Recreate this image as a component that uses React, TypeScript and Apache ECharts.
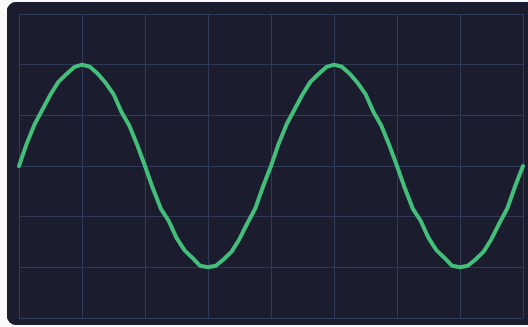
import React, { useEffect, useRef } from "react";
import * as echarts from "echarts";

// x positions in grid-cell units (8 cells across)
const xValues = [
  0, 0.125, 0.25, 0.375, 0.5, 0.625, 0.75, 0.875, 1.0, 1.125, 1.25, 1.375, 1.5, 1.625, 1.75, 1.875,
  2.0, 2.125, 2.25, 2.375, 2.5, 2.625, 2.75, 2.875, 3.0, 3.125, 3.25, 3.375, 3.5, 3.625, 3.75, 3.875,
  4.0, 4.125, 4.25, 4.375, 4.5, 4.625, 4.75, 4.875, 5.0, 5.125, 5.25, 5.375, 5.5, 5.625, 5.75, 5.875,
  6.0, 6.125, 6.25, 6.375, 6.5, 6.625, 6.75, 6.875, 7.0, 7.125, 7.25, 7.375, 7.5, 7.625, 7.75, 7.875,
  8.0,
];

// signal values (y, in grid-cell units, range -3..3)
const signalValues = [
  0, 0.45, 0.83, 1.12, 1.41, 1.66, 1.81, 1.95, 2.0, 1.96, 1.82, 1.64, 1.42, 1.07, 0.8, 0.42,
  0.0, -0.44, -0.84, -1.08, -1.42, -1.66, -1.81, -1.97, -2.0, -1.97, -1.84, -1.69, -1.44, -1.13, -0.84, -0.4,
  0.0, 0.45, 0.83, 1.12, 1.41, 1.66, 1.81, 1.95, 2.0, 1.96, 1.82, 1.64, 1.42, 1.07, 0.8, 0.42,
  0.0, -0.44, -0.84, -1.08, -1.42, -1.66, -1.81, -1.97, -2.0, -1.97, -1.84, -1.69, -1.44, -1.13, -0.84, -0.4,
  0.0,
];

const X_MIN = 0;
const X_MAX = 8;
const Y_MIN = -3;
const Y_MAX = 3;

export default function App() {
  const ref = useRef<HTMLDivElement>(null);

  useEffect(() => {
    if (!ref.current) return;
    const chart = echarts.init(ref.current, undefined, { renderer: "svg" });
    const gridLine = { show: true, lineStyle: { color: "#2f3b58", width: 1 } };
    chart.setOption({
      animation: false,
      backgroundColor: "#1b1c2d",
      grid: { left: 12, top: 12, width: 504, height: 304, show: false },
      xAxis: {
        type: "value",
        min: X_MIN,
        max: X_MAX,
        interval: 1,
        axisLine: { show: false },
        axisTick: { show: false },
        axisLabel: { show: false },
        splitLine: gridLine,
      },
      yAxis: {
        type: "value",
        min: Y_MIN,
        max: Y_MAX,
        interval: 1,
        axisLine: { show: false },
        axisTick: { show: false },
        axisLabel: { show: false },
        splitLine: gridLine,
      },
      series: [
        {
          type: "line",
          data: xValues.map((x, i) => [x, signalValues[i]]),
          showSymbol: false,
          symbol: "none",
          smooth: false,
          lineStyle: { color: "#43bf7b", width: 4, cap: "round", join: "round" },
        },
      ],
    });
    return () => chart.dispose();
  }, []);

  return (
    <div
      style={{
        position: "fixed",
        left: 0,
        top: 0,
        width: 528,
        height: 327,
        overflow: "hidden",
        background: "#f8f9fb",
      }}
    >
      <div
        style={{
          position: "absolute",
          left: 7,
          top: 2,
          width: 540,
          height: 323,
          borderRadius: 9,
          overflow: "hidden",
          background: "#1b1c2d",
        }}
      >
        <div ref={ref} style={{ width: 540, height: 323 }} />
      </div>
    </div>
  );
}
